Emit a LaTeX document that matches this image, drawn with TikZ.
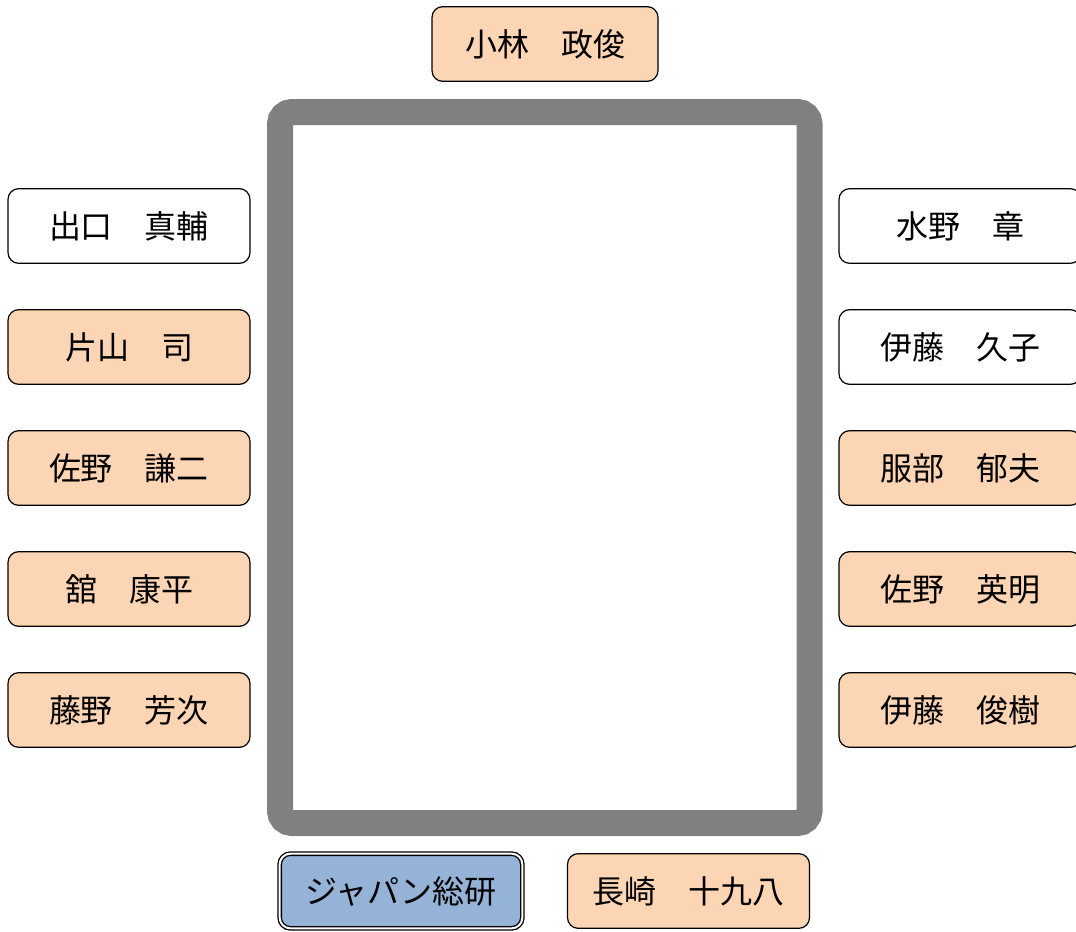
\documentclass[tikz,border=0pt]{standalone}
\usepackage{fontspec}
\newfontfamily\jp{Noto Sans CJK JP}
\definecolor{peach}{HTML}{FCD5B4}
\definecolor{blueb}{HTML}{95B3D7}
\definecolor{frame}{HTML}{808080}
\newcommand\nmtext[1]{\raisebox{-2.2pt}{#1}}
\begin{document}
\begin{tikzpicture}[x=0.75pt,y=-0.75pt,
  person/.style={draw=black, line width=0.9pt, rounded corners=8pt, minimum width=181.5pt, minimum height=56pt, font=\jp\fontsize{24}{27}\selectfont, inner sep=0pt},
  pe/.style={person, fill=peach},
  wh/.style={person, fill=white}]
\useasboundingbox (0,0) rectangle (1076,932);
\begin{scope}
\clip (0,0) rectangle (1076,932);
\draw[frame, line width=19.5pt, rounded corners=9pt, fill=white] (280,112) rectangle (809.5,823);
\node[pe, minimum width=169.5pt] (kob) at (545,44) {\nmtext{小林　政俊}};
\node[wh] (de) at (129,226) {\nmtext{出口　真輔}};
\node[pe] (ka) at (129,347) {\nmtext{片山　司}};
\node[pe] (sa) at (129,468) {\nmtext{佐野　謙二}};
\node[pe] (ta) at (129,589) {\nmtext{舘　康平}};
\node[pe] (fu) at (129,710) {\nmtext{藤野　芳次}};
\node[wh] (mi) at (960,226) {\nmtext{水野　章}};
\node[wh] (ih) at (960,347) {\nmtext{伊藤　久子}};
\node[pe] (hat) at (960,468) {\nmtext{服部　郁夫}};
\node[pe] (sah) at (960,589) {\nmtext{佐野　英明}};
\node[pe] (it) at (960,710) {\nmtext{伊藤　俊樹}};
\node[person, fill=blueb, minimum width=182pt, minimum height=56pt, double=white, double distance=1.5pt, line width=1pt] (jp) at (401,891) {\nmtext{ジャパン総研}};
\node[pe] (na) at (688.5,891) {\nmtext{長崎　十九八}};
\end{scope}
\end{tikzpicture}
\end{document}
